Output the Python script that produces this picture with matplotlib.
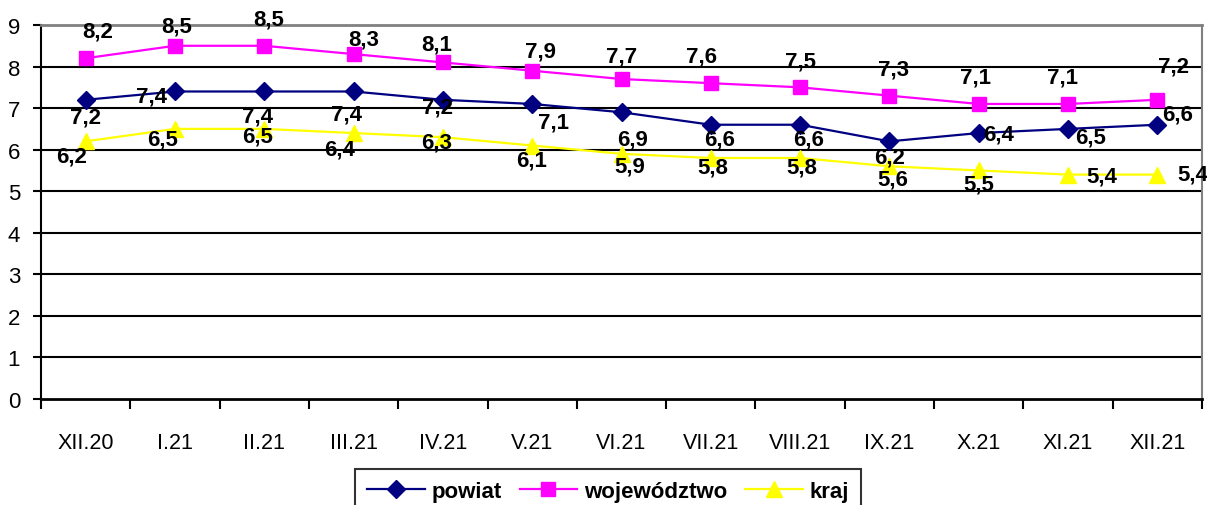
import numpy as np
import matplotlib
matplotlib.use("Agg")
from matplotlib import pyplot as plt

# Data
months = ["XII.20", "I.21", "II.21", "III.21", "IV.21", "V.21", "VI.21",
          "VII.21", "VIII.21", "IX.21", "X.21", "XI.21", "XII.21"]
powiat = [7.2, 7.4, 7.4, 7.4, 7.2, 7.1, 6.9, 6.6, 6.6, 6.2, 6.4, 6.5, 6.6]
wojewodztwo = [8.2, 8.5, 8.5, 8.3, 8.1, 7.9, 7.7, 7.6, 7.5, 7.3, 7.1, 7.1, 7.2]
kraj = [6.2, 6.5, 6.5, 6.4, 6.3, 6.1, 5.9, 5.8, 5.8, 5.6, 5.5, 5.4, 5.4]

# label offsets in pixels (dx right, dy down) relative to each point
off_powiat = [(0, 17), (-23, 5), (-7, 25), (-7, 23), (-5, 7), (21, 18), (11, 27),
              (9, 14), (8, 14), (0, 16), (20, 1), (23, 8), (20, -11)]
off_woj = [(12, -27), (2, -20), (4, -27), (10, -15), (-6, -18), (8, -20), (0, -23),
           (-9, -27), (0, -26), (4, -27), (-3, -27), (-6, -27), (16, -34)]
off_kraj = [(-14, 15), (-12, 10), (-7, 7), (-14, 16), (-6, 5), (-1, 14), (8, 12),
            (2, 9), (2, 9), (3, 13), (0, 14), (34, 1), (35, -1)]

fnt = ["Liberation Sans", "DejaVu Sans"]
plt.rcParams['font.family'] = fnt

W, H = 1207, 506
fig = plt.figure(figsize=(W / 100, H / 100), dpi=100)
ax = fig.add_axes([41 / W, 106 / H, (1202 - 41) / W, (400 - 26) / H])

x = np.arange(len(months))

series = [
    ("powiat", powiat, "#000080", "D", 9, off_powiat),
    ("województwo", wojewodztwo, "#FF00FF", "s", 10.5, off_woj),
    ("kraj", kraj, "#FFFF00", "^", 11, off_kraj),
]

for name, vals, col, mk, ms, offs in series:
    ax.plot(x, vals, color=col, marker=mk, markersize=ms, linewidth=1.6,
            label=name, zorder=3)
    for xi, v, (dx, dy) in zip(x, vals, offs):
        ax.annotate(f"{v:.1f}".replace(".", ","), (xi, v), xytext=(dx, -dy),
                    textcoords="offset pixels", ha="center", va="center",
                    fontsize=16, fontweight="bold", color="black", zorder=4)

ax.set_xlim(-0.5, len(months) - 0.5)
ax.set_ylim(0, 9)

# horizontal gridlines
for yv in range(1, 9):
    ax.axhline(yv, color="black", linewidth=1.5, zorder=1)

ax.spines["top"].set_color("#808080")
ax.spines["top"].set_linewidth(2)
ax.spines["right"].set_color("#808080")
ax.spines["right"].set_linewidth(1.5)
ax.spines["left"].set_linewidth(1.5)
ax.spines["bottom"].set_linewidth(2)

ax.set_yticks(range(0, 10))
ax.tick_params(axis="y", length=6, width=1.5, labelsize=16, pad=9)
ax.set_xticks(x)
ax.set_xticklabels(months)
ax.tick_params(axis="x", which="major", length=0, labelsize=15.5, pad=24)
ax.set_xticks(np.arange(-0.5, len(months), 1), minor=True)
ax.tick_params(axis="x", which="minor", length=7, width=1.5)

leg = ax.legend(loc="upper center", bbox_to_anchor=(608 / W, 36 / H),
                bbox_transform=fig.transFigure, ncol=3, frameon=True,
                fancybox=False, edgecolor="black", handlelength=2.6,
                columnspacing=0.8, handletextpad=0.3, borderpad=0.55,
                borderaxespad=0,
                prop={"family": fnt, "weight": "bold", "size": 16})
leg.get_frame().set_linewidth(1.5)

fig.savefig("out.png", dpi=100)
